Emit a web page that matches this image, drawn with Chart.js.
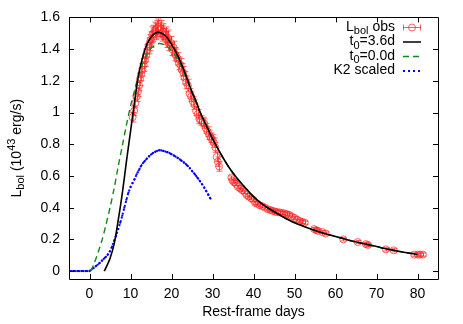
<!DOCTYPE html>
<html>
<head>
<meta charset="utf-8">
<script src="https://cdn.jsdelivr.net/npm/chart.js@4"></script>
<style>
html, body { margin: 0; padding: 0; background: #fff; }
canvas { display: block; }
</style>
</head>
<body>
<canvas id="grafico" width="463" height="324"></canvas>
<script>
// ticks dos eixos
const xTicks = [0, 10, 20, 30, 40, 50, 60, 70, 80];
const yTicks = [0, 0.2, 0.4, 0.6, 0.8, 1, 1.2, 1.4, 1.6];

// observações: dia, Lbol, erro
const obsDias = [10.5, 10.9, 11.2, 11.5, 11.8, 12.1, 12.3, 12.6, 12.9, 13.2, 13.5, 13.8, 14.1, 14.4, 14.7, 15.0, 15.3, 15.6, 15.9, 16.2, 16.5, 16.8, 17.1, 17.4, 17.7, 18.0, 18.3, 18.6, 18.9, 19.2, 19.5, 19.8, 20.1, 20.5, 20.8, 21.1, 21.5, 21.8, 22.2, 22.5, 22.9, 23.2, 23.6, 24.0, 24.4, 24.8, 25.2, 25.6, 26.0, 26.4, 26.8, 27.2, 27.6, 28.0, 28.4, 28.8, 29.2, 29.6, 30.0, 30.3, 30.7, 31.0, 31.3, 31.6,
  34.6, 34.9, 35.3, 35.7, 36.2, 36.8, 37.3, 37.8, 38.3, 38.8, 39.4, 39.9, 40.4, 40.9, 41.5, 42.1, 42.8, 43.5, 44.1, 44.7, 45.3, 45.8, 46.4, 47.0, 47.5, 48.1, 48.7, 49.3, 50.0, 50.6, 51.3, 51.9, 52.5, 54.8, 55.3, 55.7, 56.8, 57.6, 61.9, 65.4, 67.4, 67.9, 72.3, 74.2, 79.2, 80.1, 80.6, 81.3];
const obsLbol = [0.97, 1.01, 1.06, 1.10, 1.13, 1.17, 1.21, 1.24, 1.27, 1.30, 1.33, 1.36, 1.39, 1.42, 1.44, 1.46, 1.49, 1.50, 1.52, 1.51, 1.53, 1.54, 1.52, 1.53, 1.50, 1.51, 1.48, 1.49, 1.46, 1.47, 1.43, 1.44, 1.40, 1.41, 1.37, 1.36, 1.34, 1.31, 1.30, 1.27, 1.25, 1.22, 1.19, 1.17, 1.12, 1.10, 1.07, 1.05, 1.01, 0.99, 0.96, 0.95, 0.94, 0.93, 0.90, 0.88, 0.86, 0.84, 0.83, 0.81, 0.78, 0.72, 0.69, 0.66,
  0.59, 0.57, 0.56, 0.55, 0.53, 0.52, 0.51, 0.50, 0.48, 0.47, 0.46, 0.45, 0.43, 0.425, 0.415, 0.41, 0.40, 0.39, 0.385, 0.38, 0.375, 0.372, 0.37, 0.366, 0.364, 0.36, 0.355, 0.345, 0.335, 0.325, 0.315, 0.31, 0.305, 0.265, 0.258, 0.254, 0.246, 0.237, 0.20, 0.183, 0.17, 0.165, 0.137, 0.131, 0.104, 0.104, 0.104, 0.104];
const obsErro = [0.03, 0.03, 0.03, 0.03, 0.03, 0.03, 0.04, 0.04, 0.04, 0.04, 0.04, 0.04, 0.04, 0.05, 0.05, 0.05, 0.05, 0.05, 0.05, 0.05, 0.05, 0.05, 0.05, 0.05, 0.05, 0.05, 0.05, 0.05, 0.05, 0.05, 0.04, 0.04, 0.04, 0.04, 0.04, 0.04, 0.04, 0.04, 0.04, 0.04, 0.04, 0.04, 0.04, 0.04, 0.03, 0.03, 0.03, 0.03, 0.03, 0.03, 0.03, 0.03, 0.03, 0.03, 0.03, 0.03, 0.03, 0.03, 0.03, 0.03, 0.03, 0.03, 0.03, 0.03,
  0.01, 0.01, 0.01, 0.01, 0.01, 0.01, 0.01, 0.01, 0.01, 0.01, 0.01, 0.01, 0.01, 0.01, 0.01, 0.01, 0.01, 0.01, 0.01, 0.01, 0.01, 0.01, 0.01, 0.01, 0.01, 0.01, 0.01, 0.01, 0.01, 0.01, 0.01, 0.01, 0.01, 0.01, 0.01, 0.01, 0.01, 0.01, 0.01, 0.01, 0.01, 0.01, 0.01, 0.01, 0.01, 0.01, 0.01, 0.01];

// modelo t0 = 3.6d
const modeloADias = [3.6, 4, 5, 6, 7, 8, 9, 10, 11, 12, 13, 14, 15, 16, 17, 18, 19, 20, 21, 22, 23, 24, 25, 26, 27, 28, 29, 30, 32, 34, 36, 38, 40, 42, 44, 46, 48, 50, 52, 54, 56, 58, 60, 62, 64, 66, 68, 70, 72, 74, 76, 78, 80];
const modeloALbol = [0, 0.02, 0.08, 0.17, 0.32, 0.49, 0.69, 0.88, 1.07, 1.24, 1.35, 1.43, 1.475, 1.5, 1.505, 1.495, 1.47, 1.43, 1.385, 1.33, 1.27, 1.2, 1.13, 1.07, 1.0, 0.945, 0.89, 0.835, 0.74, 0.655, 0.585, 0.525, 0.47, 0.425, 0.39, 0.36, 0.33, 0.305, 0.285, 0.265, 0.248, 0.232, 0.218, 0.204, 0.19, 0.178, 0.166, 0.155, 0.142, 0.132, 0.122, 0.113, 0.105];

// modelo t0 = 0.0d
const modeloBDias = [0.3, 1, 2, 3, 4, 5, 6, 7, 8, 9, 10, 11, 12, 13, 14, 15, 16, 17, 18, 19, 20, 21, 22, 23, 24, 25, 26, 27, 28, 29, 30, 32, 34, 36, 38, 40, 42, 44, 46, 48, 50, 52, 54, 56, 58, 60, 62, 64, 66, 68, 70, 72, 74, 76, 78, 80];
const modeloBLbol = [0, 0.04, 0.11, 0.19, 0.29, 0.4, 0.52, 0.66, 0.79, 0.92, 1.04, 1.14, 1.235, 1.31, 1.37, 1.405, 1.425, 1.435, 1.43, 1.415, 1.39, 1.355, 1.31, 1.255, 1.19, 1.125, 1.065, 1.0, 0.945, 0.89, 0.835, 0.74, 0.655, 0.585, 0.525, 0.47, 0.425, 0.39, 0.36, 0.33, 0.305, 0.285, 0.265, 0.248, 0.232, 0.218, 0.204, 0.19, 0.178, 0.166, 0.155, 0.142, 0.132, 0.122, 0.113, 0.105];

// K2 escalado
const k2Dias = [-5, -4.5, -4, -3.5, -3, -2.5, -2, -1.5, -1, -0.5, 0, 0.5, 1, 1.5, 2, 2.5, 3, 3.5, 4, 4.5, 5, 5.5, 6, 6.5, 7, 7.5, 8, 8.5, 9, 9.5, 10, 10.5, 11, 11.5, 12, 12.5, 13, 13.5, 14, 14.5, 15, 15.5, 16, 16.5, 17, 17.5, 18, 18.5, 19, 19.5, 20, 20.5, 21, 21.5, 22, 22.5, 23, 23.5, 24, 24.5, 25, 25.5, 26, 26.5, 27, 27.5, 28, 28.5, 29, 29.5];
const k2Lbol = [0, 0, 0, 0, 0, 0, 0, 0, 0, 0, 0, 0.01, 0.02, 0.03, 0.04, 0.052, 0.065, 0.077, 0.09, 0.105, 0.125, 0.155, 0.19, 0.225, 0.265, 0.305, 0.35, 0.4, 0.45, 0.495, 0.53, 0.555, 0.58, 0.61, 0.635, 0.66, 0.68, 0.695, 0.71, 0.723, 0.735, 0.745, 0.752, 0.758, 0.762, 0.761, 0.758, 0.754, 0.75, 0.744, 0.737, 0.73, 0.722, 0.714, 0.705, 0.695, 0.685, 0.674, 0.662, 0.648, 0.632, 0.617, 0.6, 0.583, 0.565, 0.546, 0.525, 0.503, 0.48, 0.457];

const FONTE = "'Liberation Sans', Arial, sans-serif";
const VERMELHO = "rgba(255,30,30,0.7)";
const VERDE = "#128a12";

function pontos(xs, ys) {
    return xs.map((x, i) => ({ x: x, y: ys[i] }));
}

// desenha texto com sub/sobrescrito; partes = [texto, tamanho, deslocamento]
function larguraPartes(ctx, partes) {
    let w = 0;
    partes.forEach(p => { ctx.font = p[1] + "px " + FONTE; w += ctx.measureText(p[0]).width; });
    return w;
}
function desenhaPartes(ctx, partes, x, y) {
    ctx.textBaseline = "middle";
    ctx.textAlign = "left";
    partes.forEach(p => {
        ctx.font = p[1] + "px " + FONTE;
        ctx.fillText(p[0], x, y + p[2]);
        x += ctx.measureText(p[0]).width;
    });
}

const pluginErro = {
    id: "barrasErro",
    beforeDatasetsDraw(chart) {
        const ctx = chart.ctx, xs = chart.scales.x, ys = chart.scales.y;
        ctx.save();
        ctx.strokeStyle = VERMELHO;
        ctx.lineWidth = 1;
        ctx.beginPath();
        obsDias.forEach((d, i) => {
            const px = Math.round(xs.getPixelForValue(d)) + 0.5;
            const y1 = ys.getPixelForValue(obsLbol[i] - obsErro[i]);
            const y2 = ys.getPixelForValue(obsLbol[i] + obsErro[i]);
            ctx.moveTo(px, y1); ctx.lineTo(px, y2);
            ctx.moveTo(px - 3, y1); ctx.lineTo(px + 3, y1);
            ctx.moveTo(px - 3, y2); ctx.lineTo(px + 3, y2);
        });
        ctx.stroke();
        ctx.restore();
    }
};

const pluginMoldura = {
    id: "moldura",
    afterDraw(chart) {
        const ctx = chart.ctx, a = chart.chartArea;
        const xs = chart.scales.x, ys = chart.scales.y;
        ctx.save();
        ctx.strokeStyle = "#000";
        ctx.lineWidth = 1;
        ctx.beginPath();
        ctx.rect(Math.round(a.left) + 0.5, Math.round(a.top) + 0.5, Math.round(a.right - a.left), Math.round(a.bottom - a.top));
        xTicks.forEach(v => {
            const px = Math.round(xs.getPixelForValue(v)) + 0.5;
            ctx.moveTo(px, a.bottom); ctx.lineTo(px, a.bottom - 5);
            ctx.moveTo(px, a.top); ctx.lineTo(px, a.top + 5);
        });
        yTicks.forEach(v => {
            const py = Math.round(ys.getPixelForValue(v)) + 0.5;
            ctx.moveTo(a.left, py); ctx.lineTo(a.left + 5, py);
            ctx.moveTo(a.right, py); ctx.lineTo(a.right - 5, py);
        });
        ctx.stroke();

        // título do eixo y
        ctx.fillStyle = "#000";
        const titulo = [["L", 14, 0], ["bol", 11, 4], [" (10", 14, 0], ["43", 11, -5], [" erg/s)", 14, 0]];
        ctx.translate(17, (a.top + a.bottom) / 2);
        ctx.rotate(-Math.PI / 2);
        desenhaPartes(ctx, titulo, -larguraPartes(ctx, titulo) / 2, 0);
        ctx.setTransform(1, 0, 0, 1, 0, 0);

        // legenda
        const direita = 395, amostraX1 = 403, amostraX2 = 421;
        const linhas = [
            [["L", 14, 0], ["bol", 11, 4], [" obs", 14, 0]],
            [["t", 14, 0], ["0", 11, 4], ["=3.6d", 14, 0]],
            [["t", 14, 0], ["0", 11, 4], ["=0.0d", 14, 0]],
            [["K2 scaled", 14, 0]]
        ];
        const ys0 = [27, 41.5, 56, 70.5];
        linhas.forEach((l, i) => desenhaPartes(ctx, l, direita - larguraPartes(ctx, l), ys0[i]));

        ctx.lineWidth = 1;
        ctx.strokeStyle = VERMELHO;
        ctx.beginPath();
        ctx.moveTo(amostraX1, 27.5); ctx.lineTo(amostraX2, 27.5);
        ctx.moveTo(amostraX1 + 0.5, 24.5); ctx.lineTo(amostraX1 + 0.5, 30.5);
        ctx.moveTo(amostraX2 - 0.5, 24.5); ctx.lineTo(amostraX2 - 0.5, 30.5);
        ctx.stroke();
        ctx.beginPath();
        ctx.arc((amostraX1 + amostraX2) / 2, 27.5, 3.5, 0, Math.PI * 2);
        ctx.stroke();

        ctx.lineWidth = 1.5;
        ctx.strokeStyle = "#000";
        ctx.beginPath(); ctx.moveTo(amostraX1, 42); ctx.lineTo(amostraX2, 42); ctx.stroke();
        ctx.strokeStyle = VERDE;
        ctx.setLineDash([6, 4]);
        ctx.beginPath(); ctx.moveTo(amostraX1, 56.5); ctx.lineTo(amostraX2, 56.5); ctx.stroke();
        ctx.strokeStyle = "#0000ff";
        ctx.lineWidth = 2;
        ctx.setLineDash([2, 3]);
        ctx.beginPath(); ctx.moveTo(amostraX1, 71); ctx.lineTo(amostraX2, 71); ctx.stroke();
        ctx.restore();
    }
};

const ctx = document.getElementById("grafico").getContext("2d");
new Chart(ctx, {
    type: "scatter",
    data: {
        datasets: [
            {
                label: "t0=3.6d",
                data: pontos(modeloADias, modeloALbol),
                showLine: true,
                borderColor: "#000",
                borderWidth: 1.6,
                pointRadius: 0,
                tension: 0.3,
                order: 0
            },
            {
                label: "t0=0.0d",
                data: pontos(modeloBDias, modeloBLbol),
                showLine: true,
                borderColor: VERDE,
                borderWidth: 1.4,
                borderDash: [6, 4],
                pointRadius: 0,
                tension: 0.3,
                order: 1
            },
            {
                label: "K2 scaled",
                data: pontos(k2Dias, k2Lbol),
                showLine: true,
                borderColor: "#0000ff",
                borderWidth: 2,
                borderDash: [2, 2],
                pointRadius: 1.1,
                pointBackgroundColor: "#0000ff",
                pointBorderWidth: 0,
                order: 2
            },
            {
                label: "Lbol obs",
                data: pontos(obsDias, obsLbol),
                showLine: false,
                pointStyle: "circle",
                pointRadius: 3.5,
                borderColor: VERMELHO,
                backgroundColor: "rgba(0,0,0,0)",
                pointBorderWidth: 1,
                order: 3
            }
        ]
    },
    options: {
        responsive: false,
        animation: false,
        layout: { padding: { top: 17, right: 25, left: 0, bottom: 0 } },
        plugins: {
            legend: { display: false },
            tooltip: { enabled: false }
        },
        scales: {
            x: {
                type: "linear",
                min: -5,
                max: 85,
                afterBuildTicks: (s) => { s.ticks = xTicks.map(v => ({ value: v })); },
                afterFit: (s) => { s.height = 45; },
                grid: { display: false, drawTicks: false },
                border: { display: false },
                ticks: { color: "#000", padding: 7, font: { family: FONTE, size: 14 }, maxRotation: 0 },
                title: { display: true, text: "Rest-frame days", color: "#000", font: { family: FONTE, size: 14 }, padding: { top: 0, bottom: 3 } }
            },
            y: {
                type: "linear",
                min: -0.05,
                max: 1.6,
                afterBuildTicks: (s) => { s.ticks = yTicks.map(v => ({ value: v })); },
                afterFit: (s) => { s.width = 69; },
                grid: { display: false, drawTicks: false },
                border: { display: false },
                ticks: { color: "#000", padding: 9, font: { family: FONTE, size: 14 }, callback: (v) => String(v) }
            }
        }
    },
    plugins: [pluginErro, pluginMoldura]
});
</script>
</body>
</html>
